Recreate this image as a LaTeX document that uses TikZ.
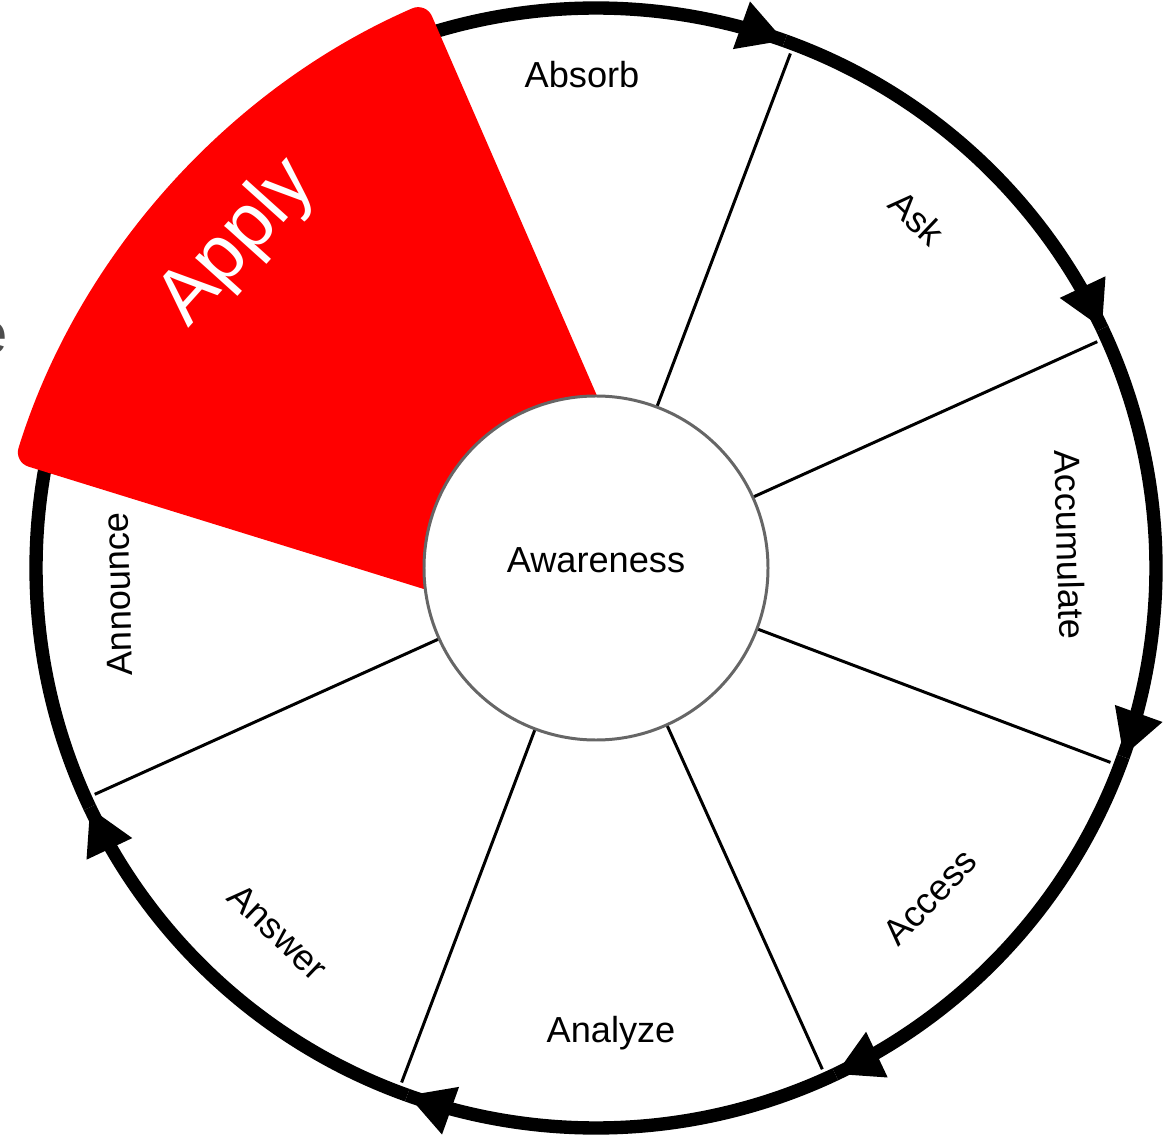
\documentclass[tikz,border=0pt]{standalone}
\usepackage{fontspec}
\setmainfont{Liberation Sans}
\usepackage{tikz}
\usetikzlibrary{arrows.meta}
\usetikzlibrary{decorations.markings}
\usetikzlibrary{calc}
\definecolor{hubgray}{HTML}{666666}
\definecolor{textgray}{HTML}{4D4D4D}
\definecolor{applyred}{HTML}{FF0000}
\tikzset{
seg/.style = {font=\fontsize{10.3}{12}\selectfont, inner sep=0pt},
rim/.style = {line width=3.8pt},
rimtip/.style = {rim, postaction={decorate},
                 decoration={markings, mark=at position 1 with {\arrow{Triangle[length=0.46cm, width=0.47cm]}}}},
spoke/.style = {line width=0.85pt},
hub/.style = {circle, draw=hubgray, fill=white, line width=0.85pt,
              minimum size=3.44cm, inner sep=0pt}
}
% one arc of the rim, clockwise, with its arrow tip
\newcommand{\rimarc}[2][rimtip]{\draw[#1] (#2:5.6) arc[start angle=#2, end angle=#2-45, radius=5.6];}

\begin{document}
\begin{tikzpicture}
        \useasboundingbox (-5.96,-5.70) rectangle (5.74,5.68);
        % rim
        \foreach \a in {115.3,70.3,25.3,-19.7,-64.7,-109.7} {\rimarc{\a}}
        \rimarc[rim]{-154.7}
        % spokes
        \coordinate (c) at (0,0);
        \foreach \a in {69.3,24.3,-20.7,-65.7,-110.7,-155.7} {\draw[spoke] ($(c)+(\a:1.72)$) -- ($(c)+(\a:5.5)$);}
        % the raised segment
        \coordinate (apex) at (1.25,-1.13);
        \fill[applyred, rounded corners=0.15cm] (apex) -- ++(113.5:7.4) arc[start angle=113.5, end angle=162.8, radius=7.4] -- cycle;
        \node[text=white, font=\fontsize{22}{24}\selectfont, rotate=48] (apply) at (-3.58,3.25) {Apply};
        \node[text=textgray, font=\fontsize{16.5}{20}\selectfont, inner sep=0pt, anchor=east] (cut) at (-5.875,2.30) {e};
        % hub
        \node[hub] (aware) at (c) {};
        \node[seg] (awaretext) at ($(aware)+(0,0.08)$) {Awareness};
        % segment labels
        \node[seg] (absorb) at (-0.14,4.93) {Absorb};
        \node[seg, rotate=-43.5] (ask) at (3.21,3.50) {Ask};
        \node[seg, rotate=-88.5] (accum) at (4.74,0.23) {Accumulate};
        \node[seg, rotate=46.5] (access) at (3.34,-3.29) {Access};
        \node[seg] (analyze) at (0.15,-4.65) {Analyze};
        \node[seg, rotate=-43.5] (answer) at (-3.18,-3.64) {Answer};
        \node[seg, rotate=91.5] (announce) at (-4.78,-0.26) {Announce};
\end{tikzpicture}
\end{document}
